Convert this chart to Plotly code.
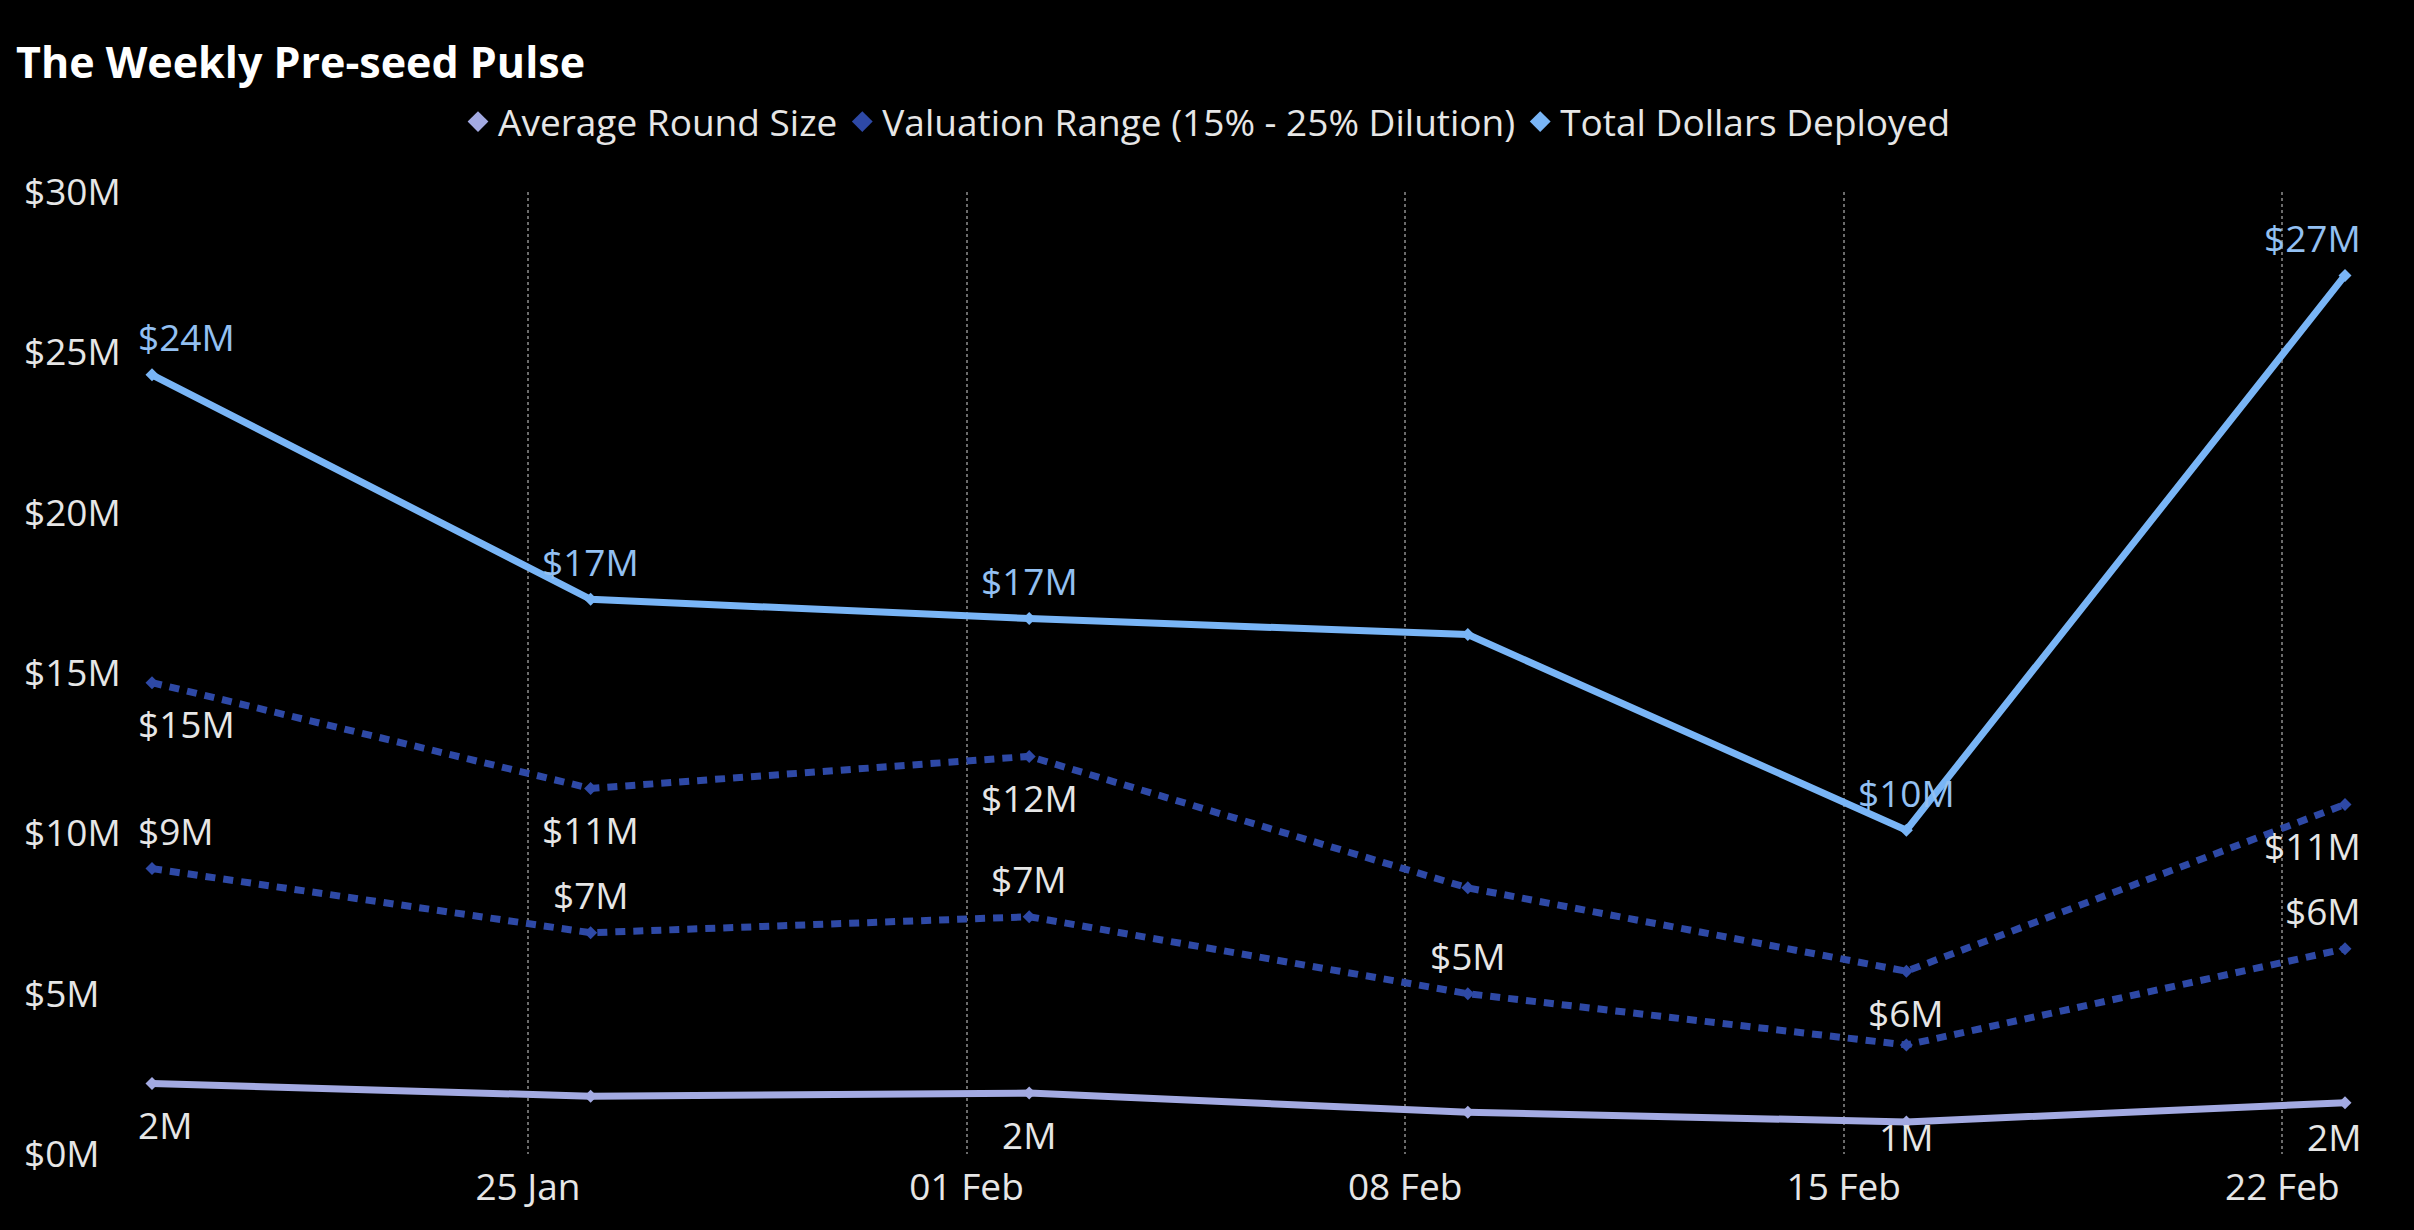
import plotly.graph_objects as go

# weekly dates (week start)
fechas = ['2025-01-19', '2025-01-26', '2025-02-02', '2025-02-09', '2025-02-16', '2025-02-23']

# values in $M
total_deployed = [24.3, 17.3, 16.7, 16.2, 10.1, 27.4]
valuation_high = [14.7, 11.4, 12.4, 8.3, 5.7, 10.9]
valuation_low = [8.9, 6.9, 7.4, 5.0, 3.4, 6.4]
avg_round = [2.2, 1.8, 1.9, 1.3, 1.0, 1.6]

# which points carry a data label
lbl_total = [1, 1, 1, 0, 1, 1]
lbl_high = [1, 1, 1, 0, 1, 1]
lbl_low = [1, 1, 1, 1, 0, 1]
lbl_avg = [1, 0, 1, 0, 1, 1]

y_ticks = [0, 5, 10, 15, 20, 25, 30]
y_ticktext = [f'${v}M' for v in y_ticks]

c_avg = '#A3AAE2'
c_val = '#2E49A6'
c_total = '#79B5F6'
c_txt = '#E6E6E6'
c_lbl_total = '#93C0F2'
fuente = 'Open Sans'
punteado = '10px,8px'

ancho = 2414
alto = 1230
m_l = 20
m_r = 58
m_t = 188
m_b = 76
x0 = (135 - m_l) / (ancho - m_l - m_r)
px_unidad = (alto - m_t - m_b) / 30


def etiqueta(v, prefijo):
    return f'{prefijo}{round(v):.0f}M'


fig = go.Figure()

series = [
    (avg_round, lbl_avg, c_avg, 'solid', '', 'abajo', c_txt),
    (valuation_high, lbl_high, c_val, punteado, '$', 'abajo', c_txt),
    (valuation_low, lbl_low, c_val, punteado, '$', 'arriba', c_txt),
    (total_deployed, lbl_total, c_total, 'solid', '$', 'arriba', c_lbl_total),
]

anotaciones = []
for valores, mostrar, color, estilo, prefijo, lado, c_lbl in series:
    fig.add_trace(go.Scatter(
        x=fechas, y=valores, mode='lines+markers',
        line=dict(color=color, width=7, dash=estilo),
        marker=dict(symbol='diamond', size=10, color=color),
        showlegend=False,
        cliponaxis=False,
    ))
    n = len(valores)
    for i, (f, v, m) in enumerate(zip(fechas, valores, mostrar)):
        if not m:
            continue
        if lado == 'arriba':
            dy = 38
        else:
            # labels are kept inside the plot area at the bottom
            dy = -min(41, v * px_unidad - 18)
        if i == 0:
            xa, dx = 'left', -16
        elif i == n - 1:
            xa, dx = 'right', 18
        else:
            xa, dx = 'center', 0
        anotaciones.append(dict(
            x=f, y=v, xref='x', yref='y',
            text=etiqueta(v, prefijo), showarrow=False,
            xanchor=xa, yanchor='middle', xshift=dx, yshift=dy,
            font=dict(size=37, color=c_lbl, family=fuente),
        ))

# legend entries: diamonds only
for nombre, color in [('Average Round Size', c_avg),
                      ('Valuation Range (15% - 25% Dilution)', c_val),
                      ('Total Dollars Deployed', c_total)]:
    fig.add_trace(go.Scatter(
        x=[None], y=[None], mode='markers', name=nombre,
        marker=dict(symbol='diamond', size=16, color=color),
    ))

fig.update_layout(
    width=ancho,
    height=alto,
    paper_bgcolor='black',
    plot_bgcolor='black',
    margin=dict(l=m_l, r=m_r, t=m_t, b=m_b),
    font=dict(family=fuente, color=c_txt, size=37),
    annotations=anotaciones,
    title=dict(
        text='<b>The Weekly Pre-seed Pulse</b>',
        font=dict(size=43, color='white', family=fuente),
        xref='container', x=16 / ancho, xanchor='left',
        yref='container', y=1 - 63 / alto, yanchor='middle',
    ),
    legend=dict(
        orientation='h',
        xref='container', x=0.5, xanchor='center',
        yref='container', y=1 - 122 / alto, yanchor='middle',
        font=dict(size=37, color=c_txt, family=fuente),
        itemwidth=30,
        tracegroupgap=0,
        bgcolor='rgba(0,0,0,0)',
    ),
    xaxis=dict(
        domain=[x0, 1],
        type='date',
        range=['2025-01-18 17:29', '2025-02-23 04:13'],
        tick0='2025-01-25',
        dtick=7 * 24 * 3600 * 1000,
        tickformat='%d %b',
        showgrid=True,
        griddash='dot',
        gridcolor='#6a6a6a',
        gridwidth=1.5,
        zeroline=False,
        showline=False,
        ticks='',
        ticklabelstandoff=8,
        tickfont=dict(size=37, color=c_txt),
    ),
    yaxis=dict(
        anchor='free',
        position=0,
        range=[0, 30],
        tickvals=y_ticks,
        ticktext=y_ticktext,
        ticklabelposition='inside',
        ticklabeloverflow='allow',
        showgrid=False,
        zeroline=False,
        showline=False,
        ticks='',
        tickfont=dict(size=37, color=c_txt),
    ),
)

fig.write_html('out.html', config={'displayModeBar': False},
               post_script="document.body.style.margin='0px';document.body.style.background='black';")
